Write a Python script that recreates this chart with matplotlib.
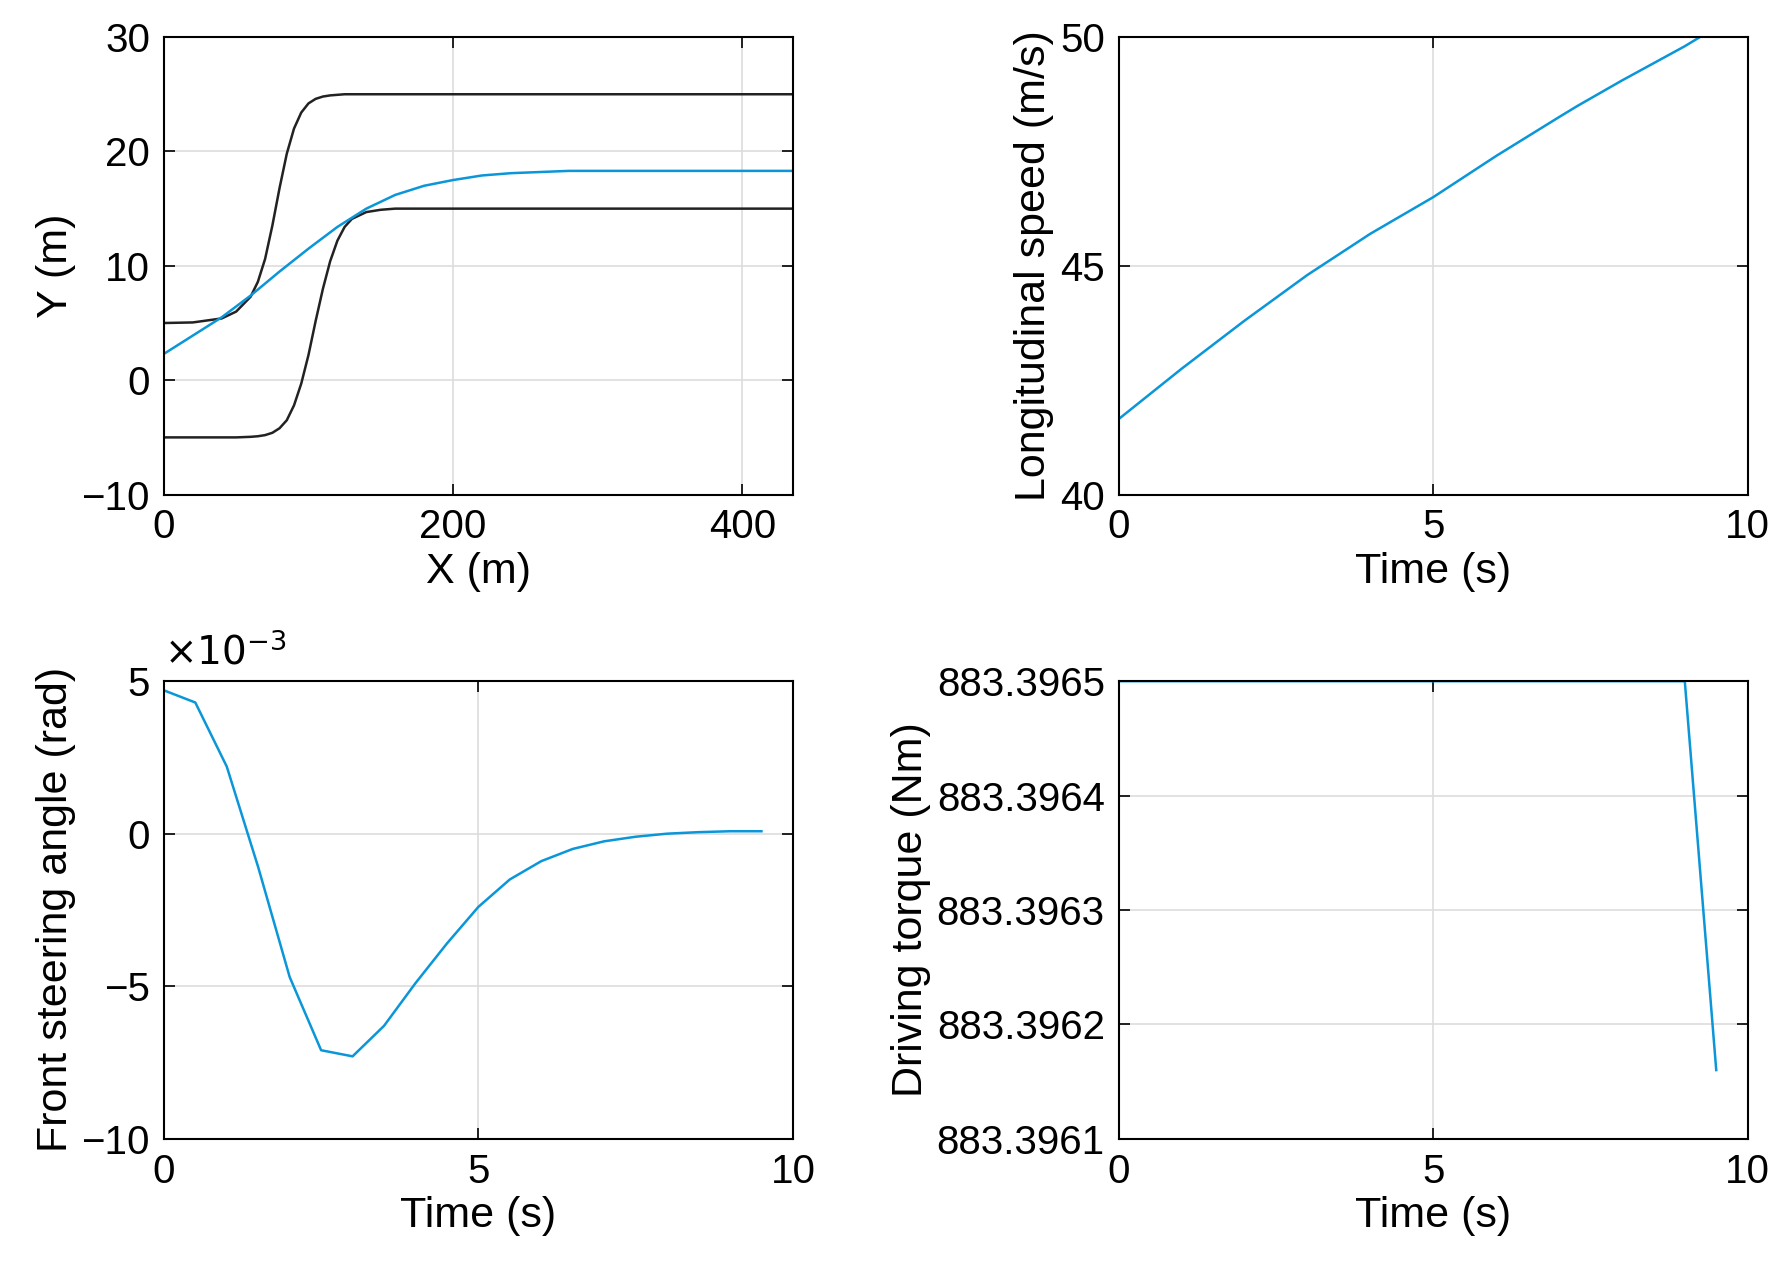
import matplotlib
matplotlib.use("Agg")
import matplotlib.pyplot as plt
import numpy as np

plt.rcParams['font.family'] = ['Liberation Sans', 'DejaVu Sans']

# Path plot data
bx = [0, 20, 40, 50, 60, 65, 70, 75, 80, 85, 90, 95, 100, 105, 110, 115, 120, 125, 130, 140, 150, 160, 180, 200, 250, 300, 435]
upper = [5, 5.05, 5.4, 6.0, 7.3, 8.6, 10.6, 13.5, 16.8, 19.8, 22.0, 23.4, 24.2, 24.6, 24.8, 24.9, 24.95, 25, 25, 25, 25, 25, 25, 25, 25, 25, 25]
lower = [-5, -5, -5, -5, -4.95, -4.9, -4.8, -4.6, -4.2, -3.5, -2.2, -0.3, 2.2, 5.2, 8.0, 10.4, 12.2, 13.4, 14.1, 14.7, 14.9, 15, 15, 15, 15, 15, 15]
px = [0, 20, 40, 60, 80, 100, 120, 140, 160, 180, 200, 220, 240, 260, 280, 300, 435]
py = [2.3, 3.9, 5.5, 7.4, 9.5, 11.5, 13.4, 15.0, 16.2, 17.0, 17.5, 17.9, 18.1, 18.2, 18.3, 18.3, 18.3]

# Speed
ts = [0, 1, 2, 3, 4, 4.5, 5, 6, 7, 7.3, 8, 9, 9.3]
vs = [41.65, 42.75, 43.8, 44.8, 45.7, 46.1, 46.5, 47.4, 48.25, 48.5, 49.05, 49.8, 50.05]

# Steering angle (x1e-3 rad)
td = [0, 0.5, 1, 1.5, 2, 2.5, 3, 3.5, 4, 4.5, 5, 5.5, 6, 6.5, 7, 7.5, 8, 8.5, 9, 9.5]
delta = [4.7, 4.3, 2.2, -1.1, -4.7, -7.1, -7.3, -6.3, -4.9, -3.6, -2.4, -1.5, -0.9, -0.5, -0.25, -0.1, 0.0, 0.05, 0.08, 0.08]

# Torque
tt = [0, 9.0, 9.5]
torque = [883.3965, 883.3965, 883.39616]

blue = '#0a96d8'
fig = plt.figure(figsize=(17.87, 12.78), dpi=100)
L1, L2, W = 0.0917, 0.626, 0.352
B1, B2, H = 0.613, 0.109, 0.358

def style(ax):
    ax.grid(True, color='#dddddd', linewidth=1.2)
    ax.tick_params(direction='in', top=True, right=True, labelsize=29, length=8, width=1.2, pad=10)
    for s in ax.spines.values():
        s.set_linewidth(1.5)

LS = 31
ax = fig.add_axes([L1, B1, W, H])
ax.plot(bx, upper, color='#222222', lw=1.8)
ax.plot(bx, lower, color='#222222', lw=1.8)
ax.plot(px, py, color=blue, lw=1.8)
ax.set_xlim(0, 435); ax.set_ylim(-10, 30)
ax.set_xticks([0, 200, 400]); ax.set_yticks([-10, 0, 10, 20, 30])
ax.set_yticklabels(['\u221210', '0', '10', '20', '30'])
ax.set_xlabel('X (m)', fontsize=LS); ax.set_ylabel('Y (m)', fontsize=LS)
style(ax)

ax = fig.add_axes([L2, B1, W, H])
ax.plot(ts, vs, color=blue, lw=1.8)
ax.set_xlim(0, 10); ax.set_ylim(40, 50)
ax.set_xticks([0, 5, 10]); ax.set_yticks([40, 45, 50])
ax.set_xlabel('Time (s)', fontsize=LS); ax.set_ylabel('Longitudinal speed (m/s)', fontsize=LS)
style(ax)

ax = fig.add_axes([L1, B2, W, H])
ax.plot(td, np.array(delta) * 1e-3, color=blue, lw=1.8)
ax.set_xlim(0, 10); ax.set_ylim(-0.01, 0.005)
ax.set_xticks([0, 5, 10]); ax.set_yticks([-0.01, -0.005, 0, 0.005])
ax.set_yticklabels(['\u221210', '\u22125', '0', '5'])
ax.text(0, 1.02, r'$\times 10^{-3}$', transform=ax.transAxes, fontsize=28, ha='left', va='bottom')
ax.set_xlabel('Time (s)', fontsize=LS); ax.set_ylabel('Front steering angle (rad)', fontsize=LS)
style(ax)

ax = fig.add_axes([L2, B2, W, H])
ax.plot(tt, torque, color=blue, lw=1.8)
ax.set_xlim(0, 10); ax.set_ylim(883.3961, 883.3965)
ax.set_xticks([0, 5, 10])
yt = [883.3961, 883.3962, 883.3963, 883.3964, 883.3965]
ax.set_yticks(yt); ax.set_yticklabels(['%.4f' % v for v in yt])
ax.set_xlabel('Time (s)', fontsize=LS); ax.set_ylabel('Driving torque (Nm)', fontsize=LS)
style(ax)

fig.savefig('out.png', dpi=100)
